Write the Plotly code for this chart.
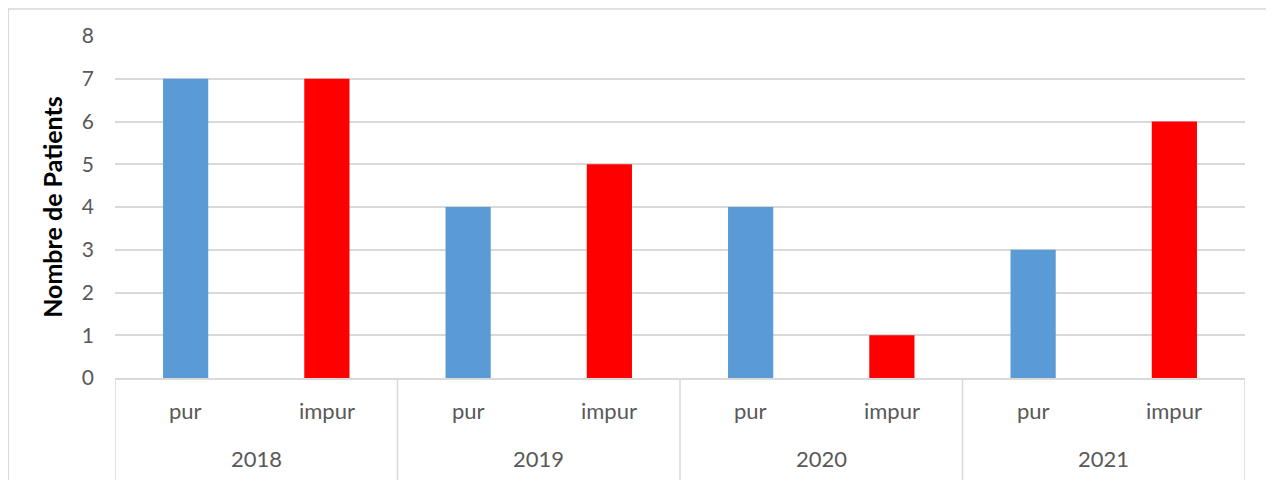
import plotly.graph_objects as go

years = ["2018", "2019", "2020", "2021"]
types = ["pur", "impur"]
pur_values = [7, 4, 4, 3]
impur_values = [7, 5, 1, 6]
y_ticks = [0, 1, 2, 3, 4, 5, 6, 7, 8]

colors = {"pur": "#5B9BD5", "impur": "#FF0000"}
FONT = "Lato"
GRAY = "#595959"
LINE = "#D9D9D9"

cats = [f"{y} {t}" for y in years for t in types]
values = {"pur": pur_values, "impur": impur_values}

fig = go.Figure()
for t in types:
    fig.add_trace(go.Bar(
        x=[f"{y} {t}" for y in years],
        y=values[t],
        marker=dict(color=colors[t], line=dict(width=0)),
        width=0.32,
        name=t,
    ))

annotations = []
for y in years:
    for t in types:
        annotations.append(dict(x=f"{y} {t}", y=-0.0936, xref="x", yref="paper",
                                yanchor="middle", text=t, showarrow=False,
                                font=dict(family=FONT, size=22, color=GRAY)))
shapes = []
for i, y in enumerate(years):
    annotations.append(dict(x=2 * i + 0.5, y=-0.234, xref="x", yref="paper",
                            yanchor="middle", text=y, showarrow=False,
                            font=dict(family=FONT, size=22, color=GRAY)))
for b in range(len(years) + 1):
    shapes.append(dict(type="line", xref="x", yref="paper", x0=2 * b - 0.5, x1=2 * b - 0.5,
                       y0=0, y1=-0.35, line=dict(color=LINE, width=1.5)))
# outer chart border
shapes.append(dict(type="rect", xref="paper", yref="paper", x0=-0.0945, x1=1.0239,
                   y0=-0.45, y1=1.079, line=dict(color=LINE, width=1.5), layer="below"))

fig.update_layout(
    width=1274, height=480,
    margin=dict(l=107, r=37, t=28, b=110),
    paper_bgcolor="white", plot_bgcolor="white",
    barmode="overlay",
    showlegend=False,
    font=dict(family=FONT, color=GRAY),
    xaxis=dict(type="category", categoryorder="array", categoryarray=cats,
               showticklabels=False, ticks="", showgrid=False,
               showline=True, linecolor=LINE, linewidth=1.5,
               range=[-0.5, len(cats) - 0.5], fixedrange=True),
    yaxis=dict(range=[0, 8], tickvals=y_ticks, showgrid=True, gridcolor=LINE, gridwidth=1.5,
               zeroline=False, showline=False, ticks="",
               tickfont=dict(family=FONT, size=21, color=GRAY), ticklabelstandoff=20,
               title=dict(text="<b>Nombre de Patients</b>", standoff=12,
                          font=dict(family=FONT, size=25, color="#000000"))),
    annotations=annotations,
    shapes=shapes,
)

fig.write_html("out.html")
